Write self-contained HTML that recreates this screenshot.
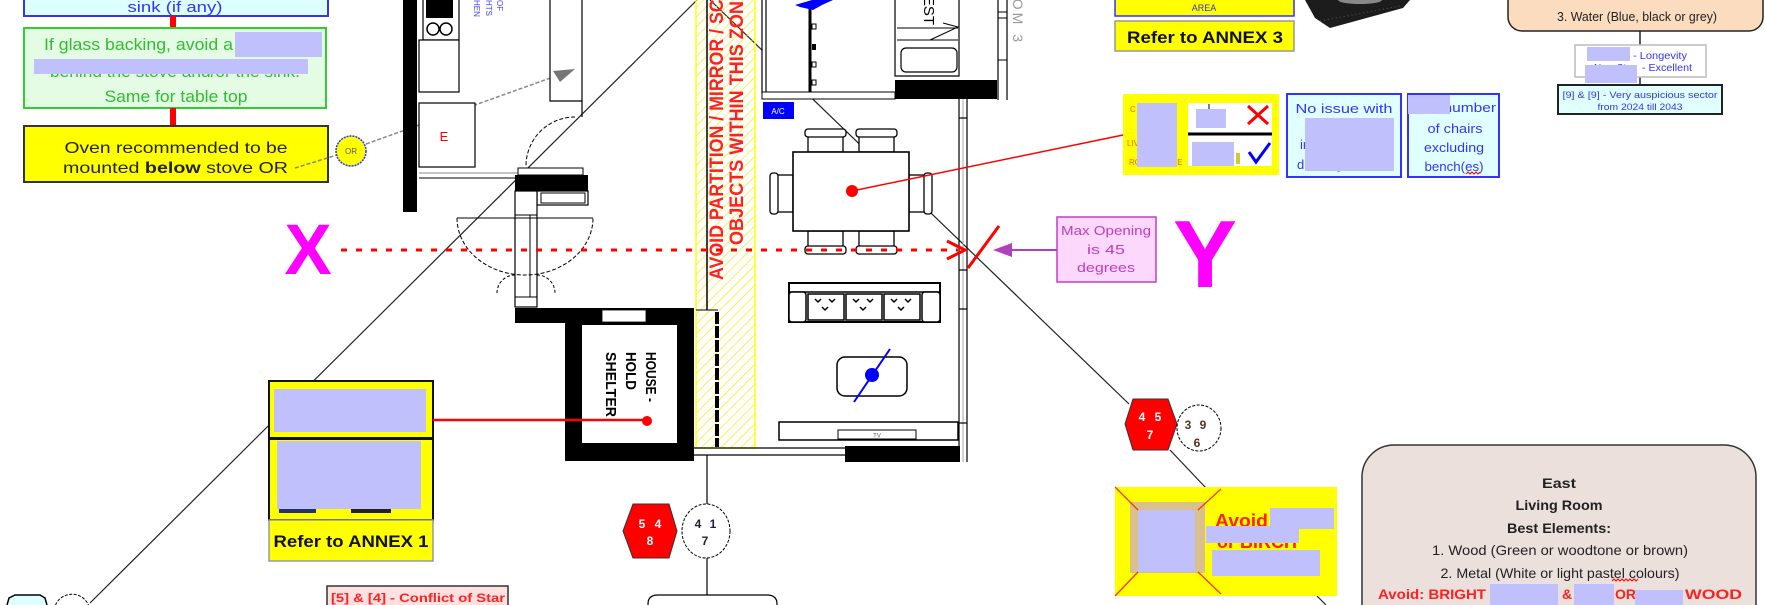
<!DOCTYPE html>
<html><head><meta charset="utf-8"><style>
html,body{margin:0;padding:0;background:#fff;width:1765px;height:605px;overflow:hidden;}
svg{display:block;overflow:hidden;}
text{font-family:"Liberation Sans",Arial,sans-serif;}
</style></head><body>
<svg width="1765" height="605" viewBox="0 0 1765 605" xmlns="http://www.w3.org/2000/svg">
<defs>
<pattern id="hatch" width="7" height="7" patternUnits="userSpaceOnUse" patternTransform="rotate(45)">
<line x1="0" y1="0" x2="0" y2="7" stroke="#eeee00" stroke-width="1.3"/>
</pattern>
</defs>
<rect width="1765" height="605" fill="#fff"/>

<!-- long diagonal lines -->
<line x1="90" y1="603" x2="697" y2="0" stroke="#222" stroke-width="1.2"/>
<line x1="710" y1="0" x2="1129" y2="404" stroke="#222" stroke-width="1.2"/>
<line x1="1170" y1="450" x2="1206" y2="488" stroke="#222" stroke-width="1.2"/>
<line x1="1317" y1="596" x2="1326" y2="605" stroke="#222" stroke-width="1.2"/>

<!-- ===== Left note boxes ===== -->
<path d="M24,0 V16 H328 V0" fill="#ddffff" stroke="#3333ff" stroke-width="2"/>
<text x="175" y="12" text-anchor="middle" font-size="15" fill="#3333ff" textLength="95" lengthAdjust="spacingAndGlyphs">sink (if any)</text>
<rect x="170" y="16" width="6" height="12" fill="#ff0000"/>
<rect x="24" y="28" width="302" height="80" fill="#e3fce3" stroke="#33cc33" stroke-width="2"/>
<text x="44" y="50" font-size="17" fill="#33bb33" textLength="189" lengthAdjust="spacingAndGlyphs">If glass backing, avoid a</text>
<text x="175" y="77" text-anchor="middle" font-size="17" fill="#33bb33" textLength="250" lengthAdjust="spacingAndGlyphs">behind the stove and/or the sink.</text>
<rect x="235" y="32" width="87" height="25" fill="#c0c0fc"/>
<rect x="34" y="59" width="274" height="15" fill="#c0c0fc"/>
<text x="176" y="102" text-anchor="middle" font-size="17" fill="#33bb33" textLength="143" lengthAdjust="spacingAndGlyphs">Same for table top</text>
<rect x="170" y="108" width="6" height="18" fill="#ff0000"/>
<rect x="24" y="126" width="304" height="56" fill="#ffff00" stroke="#333" stroke-width="2"/>
<text x="176" y="153" text-anchor="middle" font-size="16" fill="#222" textLength="223" lengthAdjust="spacingAndGlyphs">Oven recommended to be</text>
<text x="63" y="173" font-size="16" fill="#222" textLength="225" lengthAdjust="spacingAndGlyphs">mounted  <tspan font-weight="bold">below</tspan> stove OR</text>

<!-- OR circle & dashed pointer -->
<line x1="295" y1="168" x2="337" y2="155" stroke="#888" stroke-width="1.5" stroke-dasharray="4 2"/>
<line x1="366" y1="144" x2="556" y2="76" stroke="#888" stroke-width="1.5" stroke-dasharray="4 2"/>
<circle cx="351" cy="151" r="15" fill="#ffff00" stroke="#2233ff" stroke-width="1.5" stroke-dasharray="2 1"/>
<text x="351" y="154" text-anchor="middle" font-size="8" fill="#555">OR</text>

<!-- ===== Kitchen ===== -->
<rect x="403" y="0" width="14" height="212" fill="#000"/>
<path d="M423,0 V40 H459 V0" fill="#fff" stroke="#000" stroke-width="1.2"/>
<rect x="426" y="0" width="27" height="18" fill="#000"/>
<circle cx="433" cy="29" r="6" fill="#fff" stroke="#000" stroke-width="1.5"/>
<circle cx="446" cy="29" r="6" fill="#fff" stroke="#000" stroke-width="1.5"/>
<rect x="419" y="40" width="40" height="52" fill="#fff" stroke="#000" stroke-width="1.2"/>
<rect x="419" y="103" width="56" height="64" fill="#fff" stroke="#000" stroke-width="1.2"/>
<text x="444" y="141" text-anchor="middle" font-size="13" fill="#ff0000">E</text>
<line x1="419" y1="173" x2="583" y2="173" stroke="#888" stroke-width="1"/>
<line x1="419" y1="178" x2="583" y2="178" stroke="#000" stroke-width="1"/>
<g fill="#4444ff" font-size="8">
<text transform="translate(474,0) rotate(90)">HEN</text>
<text transform="translate(486,0) rotate(90)">HTS</text>
<text transform="translate(497,0) rotate(90)">OF</text>
</g>
<!-- tall element -->
<path d="M550,0 V101 H582 V0" fill="#fff" stroke="#000" stroke-width="1.2"/>
<line x1="582" y1="101" x2="582" y2="117" stroke="#000" stroke-width="1.2"/>
<polygon points="553,71 575,69 560,82" fill="#777"/>
<!-- door swing -->
<path d="M575,117 A49,49 0 0 0 526,166" fill="none" stroke="#000" stroke-width="1" stroke-dasharray="4 2"/>
<rect x="518" y="168" width="65" height="7" fill="#fff" stroke="#000" stroke-width="1"/>
<rect x="515" y="175" width="73" height="16" fill="#000"/>
<rect x="537" y="191" width="51" height="14" fill="#fff" stroke="#000" stroke-width="1.2"/>
<rect x="541" y="193" width="44" height="10" fill="#fff" stroke="#000" stroke-width="1"/>
<rect x="515" y="191" width="22" height="116" fill="#fff" stroke="#000" stroke-width="1.2"/>
<line x1="530" y1="215" x2="530" y2="297" stroke="#000" stroke-width="1"/>
<line x1="515" y1="215" x2="537" y2="215" stroke="#000" stroke-width="1"/>
<line x1="515" y1="297" x2="537" y2="297" stroke="#000" stroke-width="1"/>
<line x1="457" y1="218" x2="593" y2="218" stroke="#000" stroke-width="1"/>
<path d="M457,218 A68,57 0 0 0 593,218" fill="none" stroke="#000" stroke-width="1" stroke-dasharray="4 2"/>
<path d="M497,293 A18,18 0 0 1 515,275" fill="none" stroke="#000" stroke-width="1" stroke-dasharray="3 2"/>
<path d="M537,275 A18,18 0 0 1 555,293" fill="none" stroke="#000" stroke-width="1" stroke-dasharray="3 2"/>

<!-- ===== Household shelter ===== -->
<rect x="515" y="308" width="60" height="15" fill="#000"/>
<path d="M565,308 H694 V461 H565 Z M582,325 V443 H677 V325 Z" fill="#000" fill-rule="evenodd"/>
<rect x="602" y="310" width="44" height="12" fill="#fff" stroke="#000" stroke-width="0.8"/>
<g font-size="15" font-weight="bold" fill="#000" transform="translate(646,352) rotate(90)">
<text x="0" y="0" textLength="50" lengthAdjust="spacingAndGlyphs">HOUSE -</text>
<text x="0" y="20" textLength="38" lengthAdjust="spacingAndGlyphs">HOLD</text>
<text x="0" y="40" textLength="65" lengthAdjust="spacingAndGlyphs">SHELTER</text>
</g>

<!-- ===== Hatched zone ===== -->
<path d="M696,0 V448 H755 V0" fill="url(#hatch)" stroke="#ffff00" stroke-width="1.5"/>
<line x1="707" y1="0" x2="707" y2="310" stroke="#000" stroke-width="1.5"/>
<line x1="696" y1="310" x2="718" y2="310" stroke="#000" stroke-width="1"/>
<line x1="717" y1="312" x2="717" y2="447" stroke="#000" stroke-width="4" stroke-dasharray="12 2"/>
<text transform="translate(723,280) rotate(-90)" font-size="19" font-weight="bold" fill="#ff2020" textLength="330" lengthAdjust="spacingAndGlyphs">AVOID PARTITION / MIRROR / SCREEN</text>
<text transform="translate(743,245) rotate(-90)" font-size="19" font-weight="bold" fill="#ff2020" textLength="256" lengthAdjust="spacingAndGlyphs">OBJECTS WITHIN THIS ZONE</text>

<!-- bottom wall -->
<line x1="694" y1="448" x2="845" y2="448" stroke="#000" stroke-width="1.2"/>
<line x1="694" y1="455" x2="845" y2="455" stroke="#000" stroke-width="1.2"/>
<rect x="845" y="446" width="115" height="16" fill="#000"/>

<!-- ===== Bedroom above ===== -->
<rect x="766" y="0" width="129" height="92" fill="#fff"/>
<path d="M762,0 V93 H766 V0" fill="#fff" stroke="#000" stroke-width="1.2"/>
<line x1="810" y1="8" x2="810" y2="92" stroke="#000" stroke-width="3"/>
<g fill="#fff" stroke="#000" stroke-width="1">
<rect x="812" y="24" width="4" height="5"/><rect x="812" y="62" width="4" height="5"/><rect x="812" y="80" width="4" height="5"/>
</g>
<rect x="812" y="44" width="4" height="6" fill="#000"/>
<rect x="762" y="92" width="133" height="7" fill="#fff" stroke="#000" stroke-width="1"/>
<path d="M895,0 V76 H959 V0" fill="#fff" stroke="#000" stroke-width="1.2"/>
<line x1="897" y1="28" x2="958" y2="28" stroke="#000" stroke-width="1"/>
<line x1="897" y1="40" x2="958" y2="40" stroke="#000" stroke-width="1"/>
<rect x="901" y="48" width="56" height="24" rx="5" fill="#fff" stroke="#000" stroke-width="1.2"/>
<polyline points="930,40 958,27 943,23" fill="none" stroke="#000" stroke-width="1"/>
<text transform="translate(924,25) rotate(90)" text-anchor="end" font-size="15" fill="#000">CHEST</text>
<rect x="895" y="80" width="102" height="19" fill="#000"/>
<line x1="998" y1="0" x2="998" y2="100" stroke="#000" stroke-width="1.2"/>
<line x1="1007" y1="0" x2="1007" y2="100" stroke="#000" stroke-width="1.2"/>
<line x1="998" y1="12" x2="1007" y2="12" stroke="#000" stroke-width="1"/>
<line x1="998" y1="18" x2="1007" y2="18" stroke="#000" stroke-width="1"/>
<line x1="998" y1="60" x2="1007" y2="60" stroke="#000" stroke-width="1"/>
<text transform="translate(1013,45) rotate(90)" text-anchor="end" font-size="14" fill="#999" letter-spacing="3">OM 3</text>
<polygon points="795,5 812,0 833,0 822,5 813,10 800,7" fill="#0000ff"/>
<rect x="763" y="102" width="31" height="17" fill="#0000ff"/>
<text x="778" y="114" text-anchor="middle" font-size="8" fill="#fff">A/C</text>

<!-- living right wall -->
<line x1="959" y1="99" x2="959" y2="462" stroke="#000" stroke-width="1.2"/>
<line x1="963" y1="99" x2="963" y2="462" stroke="#aaa" stroke-width="1"/>
<line x1="967" y1="99" x2="967" y2="462" stroke="#000" stroke-width="1.2"/>
<g stroke="#000" stroke-width="1.2">
<line x1="959" y1="118" x2="967" y2="118"/><line x1="959" y1="270" x2="967" y2="270"/>
<line x1="959" y1="309" x2="967" y2="309"/><line x1="959" y1="423" x2="967" y2="423"/>
</g>

<!-- ===== Dining ===== -->
<g fill="#fff" stroke="#000" stroke-width="1.3">
<rect x="808" y="135" width="35" height="17"/><rect x="805" y="129" width="41" height="8" rx="3"/>
<rect x="859" y="135" width="35" height="17"/><rect x="856" y="129" width="41" height="8" rx="3"/>
<rect x="808" y="231" width="35" height="17"/><rect x="805" y="246" width="41" height="8" rx="3"/>
<rect x="859" y="231" width="35" height="17"/><rect x="856" y="246" width="41" height="8" rx="3"/>
<rect x="776" y="175" width="17" height="37"/><rect x="770" y="173" width="8" height="41" rx="3"/>
<rect x="909" y="175" width="17" height="37"/><rect x="924" y="173" width="8" height="41" rx="3"/>
<rect x="793" y="152" width="116" height="79" stroke-width="1.6"/>
</g>
<line x1="852" y1="191" x2="1123" y2="135" stroke="#ff0000" stroke-width="1.5"/>
<circle cx="852" cy="191" r="6" fill="#ff0000"/>

<!-- sofa -->
<rect x="789" y="283" width="151" height="39" fill="#fff" stroke="#000" stroke-width="2"/>
<line x1="789" y1="292" x2="940" y2="292" stroke="#000" stroke-width="1.5"/>
<g fill="#fff" stroke="#000" stroke-width="1.5">
<rect x="789" y="292" width="17" height="30" rx="3"/><rect x="922" y="292" width="18" height="30" rx="3"/>
<rect x="808" y="294" width="36" height="26"/><rect x="846" y="294" width="36" height="26"/><rect x="884" y="294" width="36" height="26"/>
</g>
<g fill="none" stroke="#000" stroke-width="1.5">
<path d="M815,299 l3,3 l3,-3 M829,299 l3,3 l3,-3 M822,307 l3,3 l3,-3"/>
<path d="M853,299 l3,3 l3,-3 M867,299 l3,3 l3,-3 M860,307 l3,3 l3,-3"/>
<path d="M891,299 l3,3 l3,-3 M905,299 l3,3 l3,-3 M898,307 l3,3 l3,-3"/>
</g>
<!-- coffee table -->
<rect x="837" y="357" width="70" height="39" rx="8" fill="#fff" stroke="#000" stroke-width="1.5"/>
<line x1="854" y1="402" x2="890" y2="349" stroke="#0000ff" stroke-width="2"/>
<circle cx="872" cy="375" r="7" fill="#0000ff"/>
<!-- TV -->
<rect x="779" y="422" width="179" height="18" fill="#fff" stroke="#000" stroke-width="1.5"/>
<rect x="838" y="430" width="78" height="9" fill="#fff" stroke="#000" stroke-width="1"/>
<text x="877" y="437.5" text-anchor="middle" font-size="6" fill="#666">TV</text>

<!-- X / Y dotted axis -->
<text x="308" y="274" text-anchor="middle" font-size="71" font-weight="bold" fill="#ff00ff">X</text>
<line x1="341" y1="250" x2="958" y2="250" stroke="#ff0000" stroke-width="3" stroke-dasharray="6 9"/>
<polyline points="947,241 965,250 947,259" fill="none" stroke="#ff0000" stroke-width="3"/>
<line x1="968" y1="268" x2="999" y2="226" stroke="#ff0000" stroke-width="3"/>
<line x1="1057" y1="250" x2="1008" y2="250" stroke="#b040c0" stroke-width="2"/>
<polygon points="993,250 1012,243 1012,257" fill="#b040c0"/>
<rect x="1057" y="217" width="99" height="65" fill="#fcd8fc" stroke="#c040c0" stroke-width="1.5"/>
<g font-size="12.5" fill="#c03cc0" text-anchor="middle">
<text x="1106" y="235" textLength="90" lengthAdjust="spacingAndGlyphs">Max Opening</text>
<text x="1106" y="254" textLength="38" lengthAdjust="spacingAndGlyphs">is 45</text>
<text x="1106" y="272" textLength="58" lengthAdjust="spacingAndGlyphs">degrees</text>
</g>
<text x="1205" y="287" text-anchor="middle" font-size="96" font-weight="bold" fill="#ff00ff">Y</text>

<!-- ===== Annex 1 box ===== -->
<rect x="269" y="381" width="164" height="57" fill="#ffff00" stroke="#111" stroke-width="2"/>
<rect x="269" y="439" width="164" height="81" fill="#ffff00" stroke="#111" stroke-width="2"/>
<rect x="269" y="520" width="164" height="41" fill="#ffff00" stroke="#999" stroke-width="1.5"/>
<rect x="274" y="389" width="152" height="43" fill="#c0c0fc"/>
<rect x="277" y="441" width="144" height="68" fill="#c0c0fc"/>
<rect x="279" y="509" width="37" height="4" fill="#223366"/>
<rect x="351" y="509" width="40" height="4" fill="#222"/>
<text x="351" y="547" text-anchor="middle" font-size="17" font-weight="bold" fill="#111" textLength="155" lengthAdjust="spacingAndGlyphs">Refer to ANNEX 1</text>
<line x1="433" y1="420" x2="647" y2="420" stroke="#ff0000" stroke-width="2.5"/>
<circle cx="647" cy="421" r="5" fill="#ff0000"/>

<!-- ===== bottom centre stars ===== -->
<line x1="707" y1="455" x2="707" y2="504" stroke="#000" stroke-width="1.2"/>
<line x1="707" y1="558" x2="707" y2="596" stroke="#000" stroke-width="1.2"/>
<polygon points="633,504 669,504 677,531 669,558 633,558 623,531" fill="#ff0000" stroke="#333" stroke-width="1"/>
<g font-size="12" font-weight="bold" fill="#fff" text-anchor="middle">
<text x="642" y="528">5</text><text x="658" y="528">4</text><text x="650" y="545">8</text>
</g>
<ellipse cx="706" cy="531" rx="24" ry="27" fill="#fff" stroke="#000" stroke-width="1" stroke-dasharray="3 1.5"/>
<g font-size="12" font-weight="bold" fill="#223" text-anchor="middle">
<text x="698" y="528">4</text><text x="713" y="528">1</text><text x="705" y="545">7</text>
</g>
<path d="M648,605 V604 Q648,595 658,595 H767 Q777,595 777,604 V605" fill="#fff" stroke="#000" stroke-width="1.2"/>
<path d="M327,605 V586 H508 V605" fill="#fde0e0" stroke="#333" stroke-width="1.5"/>
<text x="331" y="602" font-size="12" font-weight="bold" fill="#ff2020" textLength="174" lengthAdjust="spacingAndGlyphs">[5] &amp; [4] - Conflict of Star</text>

<!-- bottom-left shapes -->
<path d="M7,605 L9,598 L15,595 L40,595 L45,598 L47,605" fill="#ddffff" stroke="#000" stroke-width="1.5"/>
<path d="M55.5,605 A18,18 0 0 1 88.5,605" fill="#fff" stroke="#000" stroke-width="1" stroke-dasharray="3 1.5"/>

<!-- ===== Top-right ===== -->
<path d="M1115,0 V16 H1294 V0" fill="#ffff00" stroke="#3333ff" stroke-width="1.5"/>
<text x="1204" y="11" text-anchor="middle" font-size="9" fill="#3333cc">AREA</text>
<rect x="1115" y="21" width="179" height="30" fill="#ffff00" stroke="#999" stroke-width="1.5"/>
<text x="1205" y="43" text-anchor="middle" font-size="17" font-weight="bold" fill="#111" textLength="156" lengthAdjust="spacingAndGlyphs">Refer to ANNEX 3</text>
<path d="M1305,0 L1410,0 L1403,8 L1330,28 L1315,18 Z" fill="#1c1c1c"/>
<path d="M1338,0 A22,4 0 0 0 1382,0 Z" fill="#888"/>
<line x1="1320" y1="21" x2="1400" y2="6" stroke="#555" stroke-width="1" stroke-dasharray="1 3"/>

<!-- yellow ok/not box -->
<rect x="1123" y="94" width="156" height="81" fill="#ffff00"/>
<g font-size="8" fill="#ff6600">
<text x="1130" y="112">C</text><text x="1140" y="137">F</text>
<text x="1127" y="146">LIVING AREA</text><text x="1145" y="155">S</text>
<text x="1129" y="165">ROOM SPACE</text>
</g>
<rect x="1137" y="103" width="40" height="64" fill="#c0c0fc"/>
<rect x="1188" y="103" width="84" height="63" fill="#fff"/>
<line x1="1188" y1="134" x2="1272" y2="134" stroke="#000" stroke-width="3"/>
<line x1="1209" y1="104" x2="1209" y2="109" stroke="#000" stroke-width="1"/>
<rect x="1196" y="109" width="30" height="19" fill="#c0c0fc"/>
<line x1="1248" y1="106" x2="1268" y2="124" stroke="#ff0000" stroke-width="3"/>
<line x1="1268" y1="106" x2="1248" y2="124" stroke="#ff0000" stroke-width="3"/>
<rect x="1192" y="142" width="42" height="24" fill="#c0c0fc"/>
<rect x="1236" y="153" width="4" height="11" fill="#cccc33"/>
<path d="M1249,152 L1256,162 L1270,143" fill="none" stroke="#0000ff" stroke-width="3"/>

<rect x="1287" y="94" width="114" height="83" fill="#e0ffff" stroke="#3333ff" stroke-width="2"/>
<g font-size="13" fill="#3333ff">
<text x="1344" y="113" text-anchor="middle" textLength="97" lengthAdjust="spacingAndGlyphs">No issue with</text>
<text x="1300" y="149">in</text>
<text x="1297" y="169">drawing</text>
</g>
<rect x="1305" y="118" width="89" height="53" fill="#c0c0fc"/>

<rect x="1408" y="94" width="91" height="83" fill="#e0ffff" stroke="#3333ff" stroke-width="2"/>
<g font-size="13" fill="#3333ff" text-anchor="middle">
<text x="1453" y="112" textLength="86" lengthAdjust="spacingAndGlyphs">Max number</text>
<text x="1455" y="133" textLength="55" lengthAdjust="spacingAndGlyphs">of chairs</text>
<text x="1454" y="152" textLength="60" lengthAdjust="spacingAndGlyphs">excluding</text>
<text x="1454" y="171" textLength="59" lengthAdjust="spacingAndGlyphs">bench(es)</text>
</g>
<rect x="1408" y="95" width="42" height="19" fill="#c0c0fc"/>
<path d="M1466,174 l2,-2 l2,2 l2,-2 l2,2 l2,-2 l2,2 l2,-2" fill="none" stroke="#ff0000" stroke-width="1"/>

<path d="M1508,0 V17 A14,14 0 0 0 1522,31 H1749 A14,14 0 0 0 1763,17 V0" fill="#fcdcbe" stroke="#222" stroke-width="1.5"/>
<text x="1637" y="21" text-anchor="middle" font-size="13" fill="#222" textLength="160" lengthAdjust="spacingAndGlyphs">3. Water (Blue, black or grey)</text>
<line x1="1640" y1="31" x2="1640" y2="45" stroke="#222" stroke-width="1.5"/>
<line x1="1640" y1="77" x2="1640" y2="85" stroke="#222" stroke-width="1.5"/>
<rect x="1575" y="45" width="131" height="32" fill="#fff" stroke="#bbb" stroke-width="1.5"/>
<g font-size="10" fill="#3333ff">
<text x="1633" y="59" textLength="54" lengthAdjust="spacingAndGlyphs">- Longevity</text>
<text x="1594" y="71">New Star</text>
<text x="1642" y="71" textLength="50" lengthAdjust="spacingAndGlyphs">- Excellent</text>
</g>
<rect x="1587" y="47" width="43" height="14" fill="#c0c0fc"/>
<rect x="1585" y="65" width="52" height="18" fill="#c0c0fc"/>
<rect x="1558" y="85" width="164" height="29" fill="#e0ffff" stroke="#222" stroke-width="2"/>
<g font-size="9.5" fill="#3333ff" text-anchor="middle">
<text x="1640" y="98" textLength="155" lengthAdjust="spacingAndGlyphs">[9] &amp; [9] - Very auspicious sector</text>
<text x="1640" y="110" textLength="85" lengthAdjust="spacingAndGlyphs">from 2024 till 2043</text>
</g>

<!-- right stars -->
<polygon points="1133,399 1168,399 1177,424 1168,450 1133,450 1125,424" fill="#ff0000" stroke="#333" stroke-width="1"/>
<g font-size="12" font-weight="bold" fill="#fff" text-anchor="middle">
<text x="1142" y="421">4</text><text x="1158" y="421">5</text><text x="1150" y="439">7</text>
</g>
<ellipse cx="1199" cy="428" rx="22" ry="23" fill="#fff" stroke="#000" stroke-width="1" stroke-dasharray="3 1.5"/>
<g font-size="12" font-weight="bold" fill="#553322" text-anchor="middle">
<text x="1188" y="429">3</text><text x="1203" y="429">9</text><text x="1197" y="447">6</text>
</g>

<!-- Avoid yellow box -->
<rect x="1115" y="487" width="222" height="109" fill="#ffff00"/>
<rect x="1130" y="502" width="75" height="71" fill="#d9c08c"/>
<rect x="1138" y="510" width="57" height="62" fill="#c0c0fc"/>
<g stroke="#ff3300" stroke-width="1.3">
<line x1="1115" y1="487" x2="1138" y2="510"/><line x1="1221" y1="489" x2="1198" y2="510"/>
<line x1="1115" y1="596" x2="1138" y2="572"/><line x1="1221" y1="594" x2="1198" y2="572"/>
</g>
<text x="1215" y="527" font-size="18" font-weight="bold" fill="#ff2020" textLength="53" lengthAdjust="spacingAndGlyphs">Avoid</text>
<text x="1217" y="548" font-size="18" font-weight="bold" fill="#ff2020">or BIRCH</text>
<rect x="1270" y="508" width="64" height="21" fill="#c0c0fc"/>
<rect x="1206" y="526" width="93" height="17" fill="#c0c0fc"/>
<rect x="1212" y="550" width="108" height="26" fill="#c0c0fc"/>

<!-- East rounded box -->
<path d="M1362,605 V477 A32,32 0 0 1 1394,445 H1724 A32,32 0 0 1 1756,477 V605" fill="#ece0dd" stroke="#333" stroke-width="1.5"/>
<g text-anchor="middle" fill="#222">
<text x="1559" y="488" font-size="14" font-weight="bold" textLength="34" lengthAdjust="spacingAndGlyphs">East</text>
<text x="1559" y="510" font-size="14" font-weight="bold" textLength="87" lengthAdjust="spacingAndGlyphs">Living Room</text>
<text x="1559" y="533" font-size="14" font-weight="bold" textLength="104" lengthAdjust="spacingAndGlyphs">Best Elements:</text>
<text x="1560" y="555" font-size="14" textLength="256" lengthAdjust="spacingAndGlyphs">1. Wood (Green or woodtone or brown)</text>
<text x="1560" y="578" font-size="14" textLength="239" lengthAdjust="spacingAndGlyphs">2. Metal (White or light pastel colours)</text>
</g>
<path d="M1612,581 l2,-2 l2,2 l2,-2 l2,2 l2,-2 l2,2 l2,-2 l2,2 l2,-2 l2,2 l2,-2 l2,2 l2,-2" fill="none" stroke="#ff0000" stroke-width="1"/>
<g font-size="14" font-weight="bold" fill="#ff2020">
<text x="1378" y="599" textLength="108" lengthAdjust="spacingAndGlyphs">Avoid: BRIGHT</text>
<text x="1562" y="599">&amp;</text>
<text x="1615" y="599">OR</text>
<text x="1685" y="599" textLength="57" lengthAdjust="spacingAndGlyphs">WOOD</text>
</g>
<rect x="1490" y="584" width="68" height="21" fill="#c0c0fc"/>
<rect x="1574" y="584" width="40" height="21" fill="#c0c0fc"/>
<rect x="1635" y="590" width="48" height="15" fill="#c0c0fc"/>
</svg>
</body></html>
